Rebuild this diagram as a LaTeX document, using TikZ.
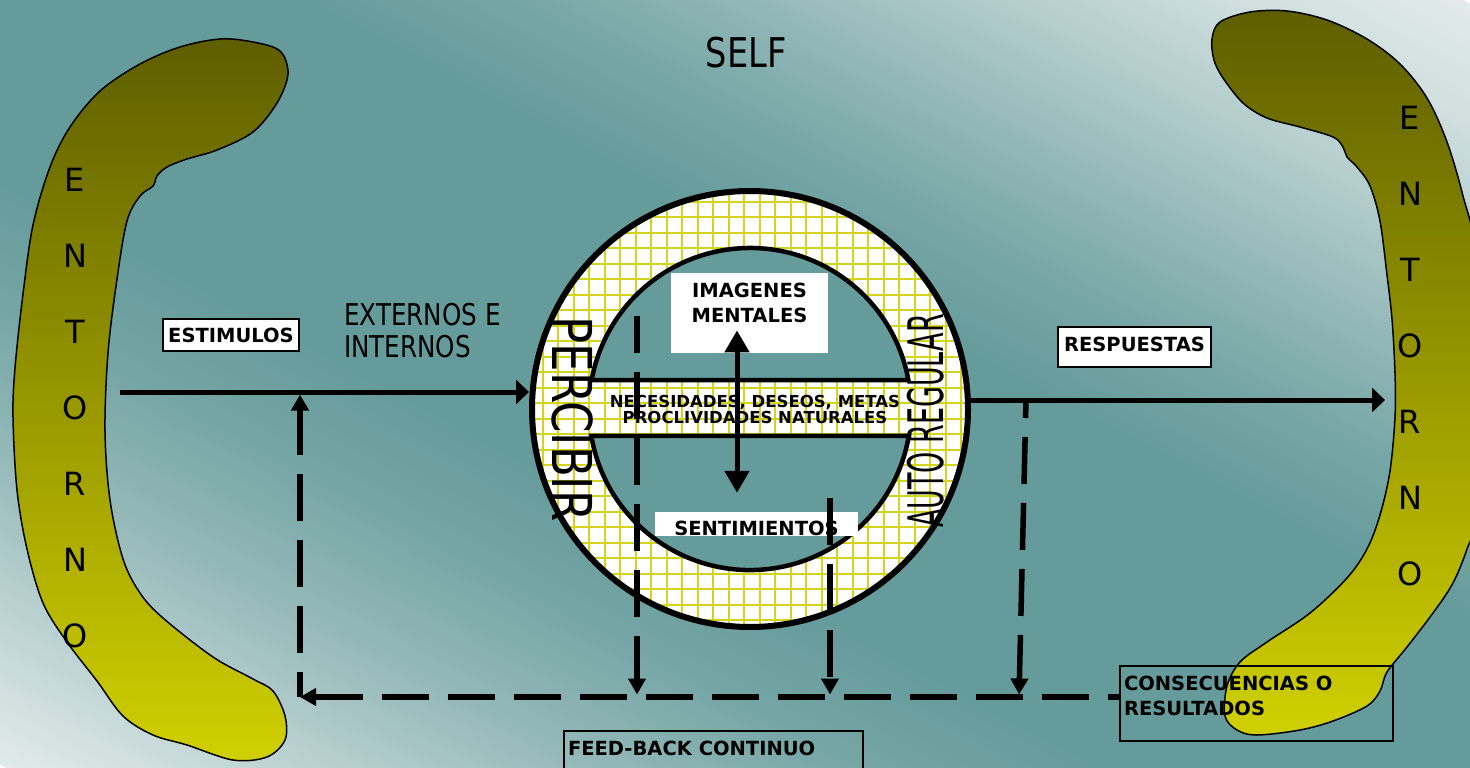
\documentclass[tikz,border=0pt]{standalone}
\usepackage{fontspec}
\setmainfont{DejaVu Sans}
\newfontfamily\slimfont[FakeStretch=0.82]{DejaVu Sans}
\newfontfamily\squeezefont[FakeStretch=0.55]{DejaVu Sans}
\usepackage{tikz}
\usetikzlibrary{arrows.meta,positioning}
\definecolor{bgteal}{HTML}{669B9B}
\definecolor{bglight}{HTML}{E2EAEA}
\definecolor{olivedark}{HTML}{5E5E00}
\definecolor{oliveyellow}{HTML}{D0D000}
\definecolor{gridyellow}{HTML}{D4D41C}
\pgfdeclareverticalshading{bgfade}{100bp}{color(0bp)=(bglight); color(25bp)=(bglight);
  color(30bp)=(bglight!70!bgteal); color(35bp)=(bglight!38!bgteal); color(40bp)=(bglight!12!bgteal);
  color(44bp)=(bgteal); color(55bp)=(bgteal); color(59bp)=(bglight!15!bgteal);
  color(63bp)=(bglight!38!bgteal); color(67bp)=(bglight!62!bgteal); color(71bp)=(bglight!85!bgteal);
  color(75bp)=(bglight); color(100bp)=(bglight)}

\begin{document}
\begin{tikzpicture}[x=1pt,y=-1pt,
  lbl/.style={font=\bfseries\fontsize{19.5}{25}\selectfont,inner sep=0pt},
  whitebox/.style={lbl,fill=white},
  framebox/.style={lbl,draw,line width=2pt},
  entfont/.style={font=\fontsize{32}{76}\selectfont,align=center,inner sep=0pt,anchor=north},
  blobshape/.style={draw=black,line width=1.5pt,top color=olivedark,bottom color=oliveyellow},
  arr/.style={line width=5pt,-{Triangle[length=13pt,width=24pt]}},
  fbarr/.style={line width=5.5pt,dash pattern=on 47pt off 19pt,-{Triangle[length=16pt,width=17pt]}},
  dblarr/.style={line width=5pt,{Triangle[length=22pt,width=24pt]}-{Triangle[length=22pt,width=24pt]}}
]
\useasboundingbox (0,0) rectangle (1470,768);
\begin{scope}
  \clip (0,0) rectangle (1470,768);
  \shade[shading=bgfade,transform canvas={rotate around={-28:(735,384)}}] (-165,-297) rectangle (1635,1065);
\end{scope}

% entorno, both sides
\path[blobshape] plot[smooth cycle,tension=0.55] coordinates {
  (288,74) (280,51) (253,42) (220,39) (180,47) (140,64) (100,91) (70,127)
  (50,167) (33,225) (23,294) (15,368) (13,417) (17,490) (27,549) (43,603)
  (67,642) (97,681) (123,716) (153,735) (187,745) (233,760) (267,757) (285,740)
  (285,716) (273,691) (253,679) (213,657) (163,618) (140,593) (123,559) (110,500)
  (105,431) (108,353) (117,279) (127,221) (140,196) (153,186) (157,176) (167,167)
  (187,159) (217,150) (253,132) (277,103)};
\path[blobshape] plot[smooth cycle,tension=0.55] coordinates {
  (1212,39) (1220,22) (1250,12) (1287,11) (1327,20) (1367,39) (1400,64) (1427,98)
  (1447,142) (1463,196) (1474,250) (1477,400) (1474,520) (1467,549) (1453,583)
  (1433,613) (1407,647) (1387,672) (1380,691) (1367,706) (1333,721) (1300,730)
  (1257,735) (1237,730) (1225,716) (1227,686) (1240,662) (1267,642) (1310,613)
  (1347,578) (1367,549) (1380,515) (1390,471) (1395,417) (1395,373) (1392,319)
  (1387,275) (1380,221) (1370,186) (1357,167) (1347,157) (1343,147) (1333,137)
  (1300,127) (1267,118) (1243,103) (1223,78) (1214,60)};
\node[entfont] (entornoL) at (75,168) {E\\N\\T\\O\\R\\N\\O};
\node[entfont] (entornoR) at (1410,106) {E\\N\\T\\O\\R\\N\\O};

% self: ring and band with grid
\begin{scope}[even odd rule]
  \clip (750,409) circle (218)
    (908.4,380.2) arc[start angle=-10.3,end angle=-169.7,radius=161] -- cycle
    (591.3,435.9) arc[start angle=170.4,end angle=9.6,radius=161] -- cycle;
  \fill[white] (520,180) rectangle (980,640);
  \draw[gridyellow,line width=2pt,step=15.5pt] (520,180) grid (980,640);
\end{scope}
\node[circle,draw,line width=6pt,minimum size=436pt,inner sep=0pt] (ring) at (750,409) {};
\draw[line width=4.5pt] (908.4,380.2) arc[start angle=-10.3,end angle=-169.7,radius=161] -- cycle;
\draw[line width=4.5pt] (591.3,435.9) arc[start angle=170.4,end angle=9.6,radius=161] -- cycle;

\node[whitebox,anchor=north] (imagenes) at (749.5,273)
  {\parbox[c][80pt][t]{157pt}{\centering\vskip 10pt IMAGENES\\MENTALES}};
\node[whitebox,anchor=base,text height=23pt,text depth=1pt,minimum width=203pt] (sentim) at (756.5,535) {SENTIMIENTOS};
\node[font=\bfseries\fontsize{16.5}{16}\selectfont,align=center,inner sep=0pt] (needs) at (755,409)
  {NECESIDADES, DESEOS, METAS\\PROCLIVIDADES NATURALES};
\draw[dblarr] ([xshift=-19.5pt,yshift=19pt]sentim.north) -- ([xshift=-12.5pt,yshift=23pt]imagenes.south);
\node[font=\slimfont\fontsize{55}{55}\selectfont,rotate=-90,inner sep=0pt] (percibir) at (573,419) {PERCIBIR};
\node[font=\squeezefont\fontsize{49}{49}\selectfont,rotate=90,inner sep=0pt] (autoreg) at (926,421) {AUTO REGULAR};

% labels
\node[font=\slimfont\fontsize{41}{41}\selectfont,inner sep=0pt] (selflbl) at (746,53) {SELF};
\node[font=\slimfont\fontsize{30}{32}\selectfont,align=left,anchor=north west,inner sep=0pt] (externos) at (344,303) {EXTERNOS E\\INTERNOS};
\node[framebox,fill=white,anchor=base,text height=23pt,text depth=9pt,minimum width=136pt] (estimulos) at (231,342) {ESTIMULOS};
\node[framebox,fill=white,anchor=base,text height=24pt,text depth=16pt,minimum width=153pt] (respuestas) at (1134.5,351) {RESPUESTAS};
\node[framebox,anchor=north west] (conseq) at (1119,665)
  {\parbox[c][75pt][t]{273pt}{\raggedright\leftskip=4pt\vskip 10pt CONSECUENCIAS O\\RESULTADOS}};
\node[framebox,anchor=north west] (feedback) at (563,730)
  {\parbox[c][60pt][t]{299pt}{\leftskip=4pt\vskip 10pt FEED-BACK CONTINUO}};

% stimulus in, response out
\coordinate (stim) at (120,392);
\coordinate (resp) at (1385,400);
\draw[arr] (stim) -- (stim -| ring.west);
\draw[arr] (ring.east |- resp) -- (resp);

% feed-back loop
\coordinate (fbcorner) at (300,697);
\coordinate (fbA) at (637,316);
\coordinate (fbB) at (830,498);
\coordinate (fbC) at (1026,400);
\coordinate (fbCend) at (1019,697);
\draw[fbarr,dash phase=36pt] (conseq.west |- fbcorner) -- (fbcorner);
\draw[fbarr,dash phase=22pt,shorten >=2.5pt] (fbcorner) -- (fbcorner |- stim);
\draw[fbarr,dash phase=10pt,shorten >=2.5pt] (fbA) -- (fbA |- fbcorner);
\draw[fbarr,shorten >=2.5pt] (fbB) -- (fbB |- fbcorner);
\draw[fbarr,dash phase=29pt,shorten >=2.5pt] (fbC) -- (fbCend);
\end{tikzpicture}
\end{document}
